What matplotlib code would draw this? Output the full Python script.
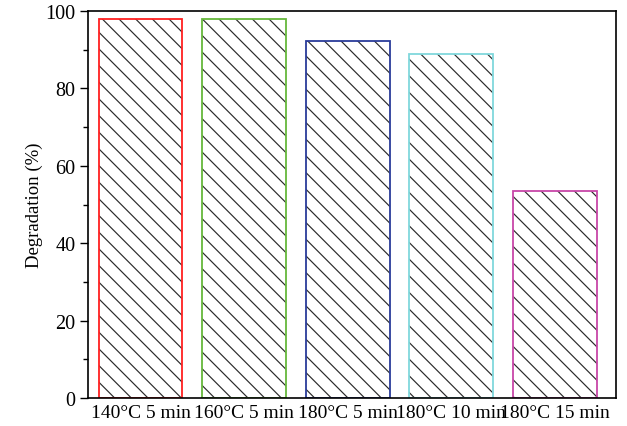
import matplotlib
matplotlib.use("Agg")
import matplotlib.pyplot as plt
from matplotlib.ticker import MultipleLocator

categories = ["140°C 5 min", "160°C 5 min", "180°C 5 min", "180°C 10 min", "180°C 15 min"]
values = [98.0, 98.0, 92.2, 89.0, 53.5]
colors = ["#ff2020", "#66b83c", "#2a3c9a", "#80d8dc", "#c846a8"]

plt.rcParams['font.family'] = ['Liberation Serif', 'DejaVu Serif']
plt.rcParams['hatch.linewidth'] = 0.85

fig = plt.figure(figsize=(6.27, 4.27), dpi=100)
ax = fig.add_axes([0.140, 0.0656, 0.842, 0.906])

x = list(range(len(categories)))
ax.bar(x, values, width=0.81, color="white", edgecolor="#2a2a2a", linewidth=0, hatch="\\\\")
ax.bar(x, values, width=0.81, fill=False, edgecolor=colors, linewidth=1.3)

ax.set_xlim(-0.51, 4.59)
ax.set_ylim(0, 100)
ax.set_xticks(x)
ax.set_xticklabels(categories, fontsize=14)
ax.tick_params(axis='x', length=0, pad=4)
ax.yaxis.set_major_locator(MultipleLocator(20))
ax.yaxis.set_minor_locator(MultipleLocator(10))
ax.tick_params(axis='y', which='major', length=6, width=1, direction='out', labelsize=14.5, pad=3)
ax.tick_params(axis='y', which='minor', length=3.5, width=1, direction='out')
ax.set_ylabel("Degradation (%)", fontsize=13.5)
ax.yaxis.set_label_coords(-0.085, 0.5)
for s in ax.spines.values():
    s.set_linewidth(1.2)

fig.savefig("out.png", dpi=100)
